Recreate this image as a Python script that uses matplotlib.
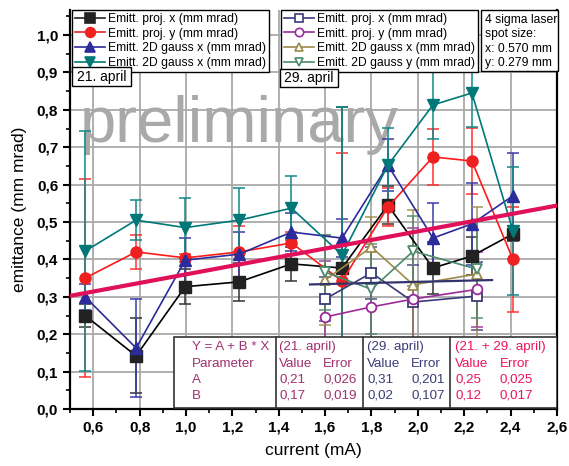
import matplotlib
matplotlib.use("Agg")
import matplotlib.pyplot as plt
from matplotlib.lines import Line2D
from matplotlib.patches import Rectangle
from matplotlib.ticker import MultipleLocator, FuncFormatter

plt.rcParams['font.family'] = ['Liberation Sans', 'DejaVu Sans']

# ---------------- data: 21. april ----------------
x21 = [0.565, 0.785, 0.997, 1.23, 1.455, 1.673, 1.871, 2.065, 2.233, 2.41]
projx21 = [0.250, 0.142, 0.327, 0.340, 0.388, 0.377, 0.545, 0.377, 0.409, 0.468]
projx21_err = [0.03, 0.10, 0.047, 0.05, 0.046, 0.43, 0.05, 0.07, 0.05, 0.02]
projy21 = [0.350, 0.420, 0.404, 0.420, 0.444, 0.342, 0.540, 0.674, 0.663, 0.400]
projy21_err = [0.265, 0.045, 0.01, 0.07, 0.03, 0.342, 0.05, 0.076, 0.088, 0.14]
gaussx21 = [0.300, 0.163, 0.398, 0.414, 0.473, 0.457, 0.652, 0.457, 0.495, 0.570]
gaussx21_err = [0.035, 0.13, 0.06, 0.06, 0.05, 0.05, 0.07, 0.095, 0.11, 0.115]
gaussy21 = [0.422, 0.505, 0.485, 0.505, 0.537, 0.412, 0.652, 0.813, 0.845, 0.476]
gaussy21_err = [0.32, 0.053, 0.08, 0.085, 0.085, 0.395, 0.10, 0.09, 0.09, 0.17]

# ---------------- data: 29. april ----------------
x29 = [1.60, 1.80, 1.98, 2.255]
projx29 = [0.294, 0.364, 0.286, 0.302]
projx29_err = [0.06, 0.07, 0.10, 0.09]
projy29 = [0.246, 0.273, 0.294, 0.320]
projy29_err = [0.15, 0.10, 0.19, 0.10]
gaussx29 = [0.345, 0.433, 0.332, 0.361]
gaussx29_err = [0.12, 0.08, 0.20, 0.18]
gaussy29 = [0.366, 0.320, 0.422, 0.374]
gaussy29_err = [0.10, 0.12, 0.094, 0.13]

# ---------------- linear fits ----------------
fit_all_A, fit_all_B = 0.245, 0.115
fit_all_range = [0.5, 2.6]
fit29_A, fit29_B = 0.31, 0.015
fit29_range = [1.535, 2.32]

labels21 = ["Emitt. proj. x (mm mrad)", "Emitt. proj. y (mm mrad)",
            "Emitt. 2D gauss x (mm mrad)", "Emitt. 2D gauss x (mm mrad)"]
labels29 = ["Emitt. proj. x (mm mrad)", "Emitt. proj. y (mm mrad)",
            "Emitt. 2D gauss x (mm mrad)", "Emitt. 2D gauss y (mm mrad)"]

table_col1 = ["Y = A + B * X", "Parameter", "A", "B"]
table_col2 = [("(21. april)", ""), ("Value", "Error"), ("0,21", "0,026"), ("0,17", "0,019")]
table_col3 = [("(29. april)", ""), ("Value", "Error"), ("0,31", "0,201"), ("0,02", "0,107")]
table_col4 = [("(21. + 29. april)", ""), ("Value", "Error"), ("0,25", "0,025"), ("0,12", "0,017")]
laser_text = "4 sigma laser\nspot size:\nx: 0.570 mm\ny: 0.279 mm"

# ---------------- figure ----------------
W, H = 569, 466
fig = plt.figure(figsize=(W / 100, H / 100), dpi=100)
L, R, B, T = 70, 557, 409, 10
ax = fig.add_axes([L / W, 1 - B / H, (R - L) / W, (B - T) / H])
ax.set_xlim(0.5, 2.6)
ax.set_ylim(0.0, (B - T) / 374.0)


def P(px, py):
    return ((px - L) / (R - L), (B - py) / (B - T))


ax.set_axisbelow(True)
ax.grid(True, which='major', color='#a9a9a9', lw=1.3)
ax.xaxis.set_major_locator(MultipleLocator(0.2))
ax.xaxis.set_minor_locator(MultipleLocator(0.1))
ax.yaxis.set_major_locator(MultipleLocator(0.1))
ax.yaxis.set_minor_locator(MultipleLocator(0.05))
fmt = FuncFormatter(lambda v, p: f"{v:.1f}".replace('.', ','))
ax.xaxis.set_major_formatter(fmt)
ax.yaxis.set_major_formatter(fmt)
ax.tick_params(which='major', direction='out', length=5, width=1.5, labelsize=11)
ax.tick_params(which='minor', direction='out', length=3, width=1.2)
for lab in ax.get_xticklabels() + ax.get_yticklabels():
    lab.set_fontweight('bold')
for s in ['left', 'bottom', 'right']:
    ax.spines[s].set_linewidth(1.6)
ax.spines['top'].set_visible(False)
ax.set_xlabel("current (mA)", fontsize=12.5, labelpad=6)
ax.set_ylabel("emittance (mm mrad)", fontsize=12.5, labelpad=7)

# watermark
ax.text(*P(80, 142), "preliminary", transform=ax.transAxes, fontsize=47,
        color='#a9a9a9', va='baseline', ha='left', zorder=1)

# ---------------- series ----------------
series21 = [
    (projx21, projx21_err, 's', '#000000', '#222222', '#333333'),
    (projy21, projy21_err, 'o', '#ff1a1a', '#ee2020', '#ff3030'),
    (gaussx21, gaussx21_err, '^', '#2b2b9a', '#2b2b9a', '#3a3aa8'),
    (gaussy21, gaussy21_err, 'v', '#007878', '#007878', '#118888'),
]
for y, e, m, lc, mc, ec in series21:
    ax.errorbar(x21, y, yerr=e, fmt='none', ecolor=ec, elinewidth=1.1,
                capsize=4, capthick=1.1, zorder=2)
    ax.plot(x21, y, color=lc, lw=1.2, marker=m, ms=8, mfc=mc, mec=mc, zorder=3)

series29 = [
    (projx29, projx29_err, 's', '#3a3a7a'),
    (projy29, projy29_err, 'o', '#9a2a9a'),
    (gaussx29, gaussx29_err, '^', '#9c8a48'),
    (gaussy29, gaussy29_err, 'v', '#4a8a6a'),
]
for y, e, m, c in series29:
    ax.errorbar(x29, y, yerr=e, fmt='none', ecolor=c, elinewidth=1.1,
                capsize=4, capthick=1.1, zorder=2, alpha=0.9)
    ax.plot(x29, y, color=c, lw=1.2, marker=m, ms=7, mfc='white', mec=c,
            mew=1.3, zorder=3)

# fit lines
fx = fit_all_range
ax.plot(fx, [fit_all_A + fit_all_B * v for v in fx], color='#e0105a', lw=3, zorder=4)
fx = fit29_range
ax.plot(fx, [fit29_A + fit29_B * v for v in fx], color='#33336e', lw=1.6, zorder=4)

# ---------------- legends ----------------
def handle(m, c, filled):
    return Line2D([], [], color=c, lw=1.2, marker=m, ms=7 if filled else 6,
                  mfc=c if filled else 'white', mec=c, mew=1.2)

h21 = [handle(s[2], s[4], True) for s in series21]
h29 = [handle(s[2], s[3], False) for s in series29]
common = dict(loc='upper left', bbox_transform=ax.transAxes, fontsize=8.7,
              frameon=True, fancybox=False, framealpha=1, edgecolor='black',
              borderaxespad=0, borderpad=0.25, labelspacing=0.22,
              handlelength=2.5, handletextpad=0.25)
leg1 = ax.legend(h21, labels21, bbox_to_anchor=P(72, 10), **common)
leg1.get_frame().set_linewidth(1.0)
leg1.set_zorder(10)
ax.add_artist(leg1)
leg2 = ax.legend(h29, labels29, bbox_to_anchor=P(281, 10), **common)
leg2.get_frame().set_linewidth(1.0)
leg2.set_zorder(10)

# date labels
for (x0, y0, x1, y1), txt in [((72, 67, 131, 86), "21. april"), ((280, 69, 338, 87), "29. april")]:
    a0 = P(x0, y1)
    a1 = P(x1, y0)
    ax.add_patch(Rectangle(a0, a1[0] - a0[0], a1[1] - a0[1], transform=ax.transAxes,
                           fc='white', ec='black', lw=1, zorder=11, clip_on=False))
    ax.text((a0[0] + a1[0]) / 2, (a0[1] + a1[1]) / 2, txt, transform=ax.transAxes,
            ha='center', va='center', fontsize=10, zorder=12)

# laser box
a0, a1 = P(481, 71), P(558, 10)
ax.add_patch(Rectangle(a0, a1[0] - a0[0], a1[1] - a0[1], transform=ax.transAxes,
                       fc='white', ec='black', lw=1, zorder=11, clip_on=False))
ax.text(*P(485, 14), laser_text, transform=ax.transAxes, ha='left', va='top',
        fontsize=8.7, linespacing=1.25, zorder=12)

# ---------------- fit table ----------------
a0, a1 = P(174, 408), P(557, 337)
ax.add_patch(Rectangle(a0, a1[0] - a0[0], a1[1] - a0[1], transform=ax.transAxes,
                       fc='white', ec='#333333', lw=1.2, zorder=11))
for xs in [276, 363, 450]:
    ax.plot([P(xs, 0)[0]] * 2, [a0[1], a1[1]], transform=ax.transAxes,
            color='#333333', lw=1.2, zorder=12)
rows_y = [347, 364, 380, 396]
c1 = '#a03070'
c3 = '#3c3c78'
c4 = '#ee1260'
for i, ty in enumerate(rows_y):
    ax.text(*P(192, ty), table_col1[i], transform=ax.transAxes, color=c1,
            fontsize=9.6, va='center', ha='left', zorder=13)
    for (xa, xb), col, c in [((279, 323), table_col2, c1), ((367, 411), table_col3, c3),
                             ((455, 500), table_col4, c4)]:
        ax.text(*P(xa, ty), col[i][0], transform=ax.transAxes, color=c,
                fontsize=9.6, va='center', ha='left', zorder=13)
        if col[i][1]:
            ax.text(*P(xb, ty), col[i][1], transform=ax.transAxes, color=c,
                    fontsize=9.6, va='center', ha='left', zorder=13)

fig.savefig("out.png", dpi=100)
